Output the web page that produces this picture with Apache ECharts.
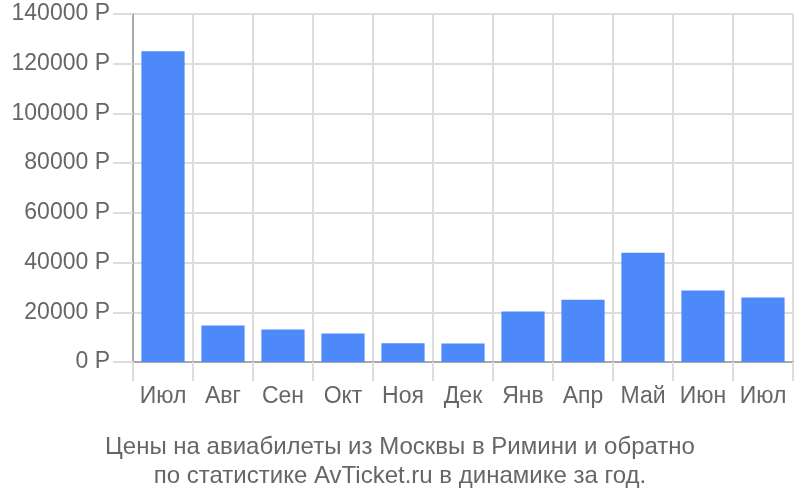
<!DOCTYPE html>
<html>
<head>
<meta charset="utf-8">
<script src="https://cdn.jsdelivr.net/npm/echarts@6/dist/echarts.min.js"></script>
<style>html,body{margin:0;padding:0;background:#fff}#c{width:800px;height:500px}</style>
</head>
<body>
<div id="c"></div>
<script>
var categories = ['Июл','Авг','Сен','Окт','Ноя','Дек','Янв','Апр','Май','Июн','Июл'];
var prices = [125000, 14700, 13100, 11500, 7500, 7400, 20300, 25000, 44000, 28800, 25900];
var titleLines = ['Цены на авиабилеты из Москвы в Римини и обратно', 'по статистике AvTicket.ru в динамике за год.'];

var chart = echarts.init(document.getElementById('c'), null, {renderer: 'canvas'});
chart.setOption({
  animation: false,
  textStyle: {fontFamily: 'Liberation Sans, Arial, sans-serif'},
  title: {
    text: titleLines.join('\n'),
    left: 'center',
    top: 428,
    textStyle: {fontSize: 24, fontWeight: 'normal', color: '#666', lineHeight: 29, fontFamily: 'Liberation Sans, Arial, sans-serif'}
  },
  grid: {left: 133, right: 7, top: 14, bottom: 138, containLabel: false},
  xAxis: {
    type: 'category',
    data: categories,
    boundaryGap: true,
    axisLine: {show: true, lineStyle: {color: '#aaa', width: 2}},
    axisTick: {show: true, length: 19, alignWithLabel: false, lineStyle: {color: '#ddd', width: 2}},
    splitLine: {show: true, lineStyle: {color: '#ddd', width: 2}},
    axisLabel: {margin: 23, fontSize: 23, color: '#666', interval: 0}
  },
  yAxis: {
    type: 'value',
    min: 0,
    max: 140000,
    interval: 20000,
    axisLine: {show: true, lineStyle: {color: '#aaa', width: 2}},
    axisTick: {show: true, length: 20, lineStyle: {color: '#ddd', width: 2}},
    splitLine: {show: true, lineStyle: {color: '#ddd', width: 2}},
    axisLabel: {margin: 23, fontSize: 23, color: '#666', formatter: function(v){return v + ' Р';}}
  },
  series: [{
    type: 'bar',
    data: prices,
    barCategoryGap: '28%',
    itemStyle: {color: '#4d89f9'}
  }]
});
</script>
</body>
</html>
